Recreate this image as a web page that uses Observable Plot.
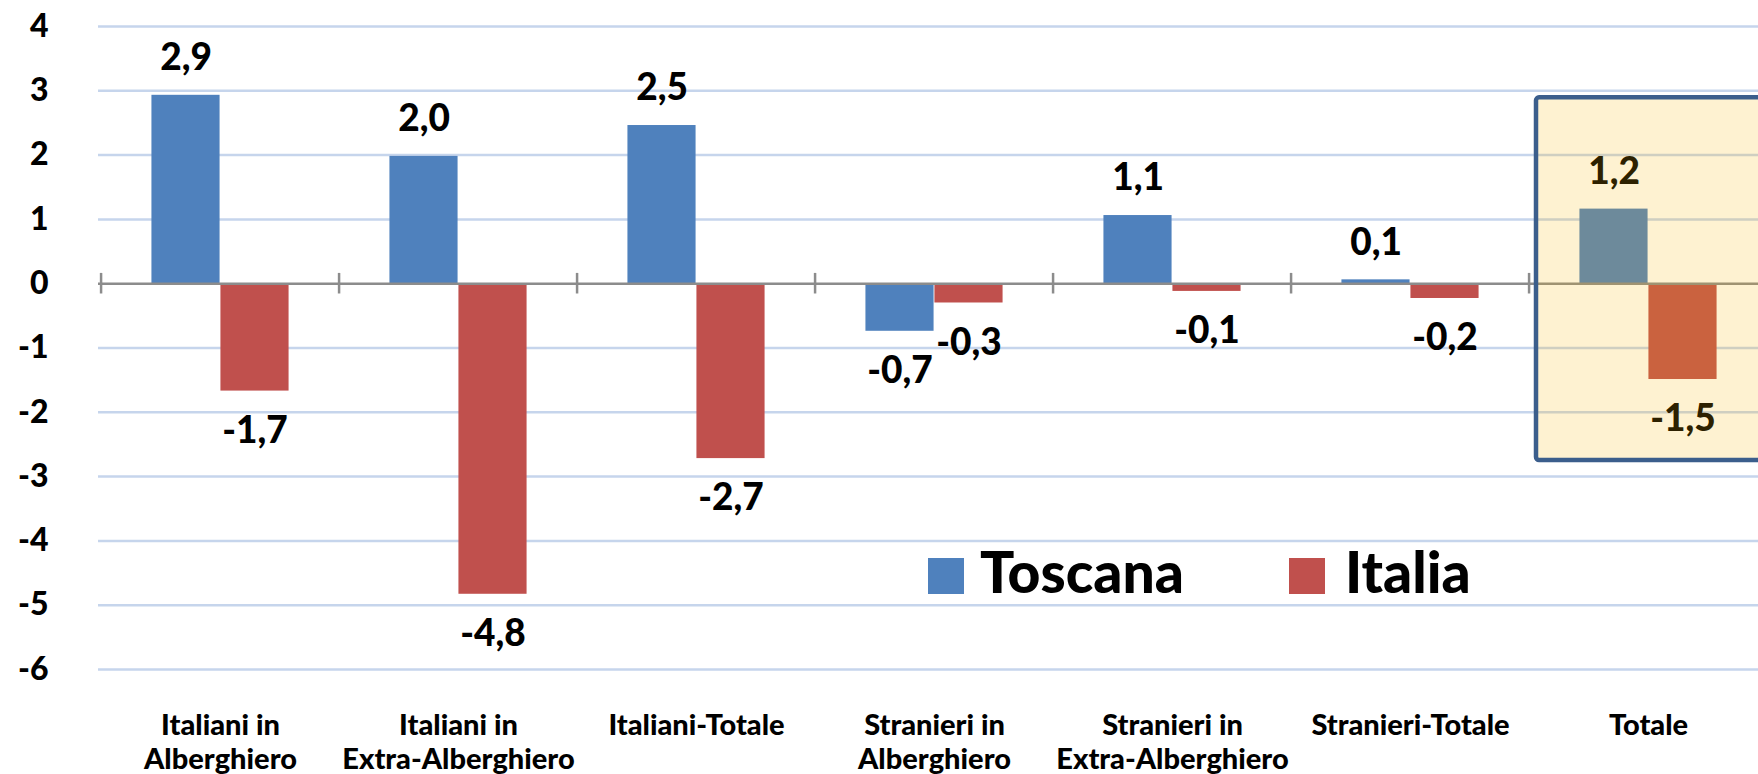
<!DOCTYPE html>
<html><head><meta charset="utf-8">
<script src="https://cdn.jsdelivr.net/npm/d3@7"></script>
<script src="https://cdn.jsdelivr.net/npm/@observablehq/plot@0.6"></script>
<style>
html,body{margin:0;padding:0;background:#fff;overflow:hidden;width:1758px;height:774px}
#wrap{position:relative;width:1758px;height:774px;overflow:hidden}
#wrap svg{position:absolute;left:0;top:0;max-width:none!important}
.lg-sw{position:absolute;width:36px;height:36px}
.lg-tx{position:absolute;font-family:Lato,sans-serif;font-weight:900;font-size:57px;line-height:57px;color:#000;white-space:nowrap}
</style></head><body><div id="wrap"></div>
<script>
const categories = ["Italiani in\nAlberghiero", "Italiani in\nExtra-Alberghiero", "Italiani-Totale", "Stranieri in\nAlberghiero", "Stranieri in\nExtra-Alberghiero", "Stranieri-Totale", "Totale"];
const series = ["Toscana", "Italia"];
const toscana = [2.93, 1.98, 2.46, -0.74, 1.06, 0.06, 1.16];
const italia = [-1.67, -4.83, -2.72, -0.30, -0.12, -0.23, -1.49];
const colors = ["#4F81BD", "#C0504D"];
const yTicks = [-6, -5, -4, -3, -2, -1, 0, 1, 2, 3, 4];
const highlightCategory = ["Totale"];
const highlightRange = [2.89, -2.75];

const W = 1770, H = 774, ML = 98, MR = 0, MT = 26, MB = 105;
const bw = (W - ML - MR) / categories.length;
const barW = 69;
const gap = bw / 2 - barW;

const rowsT = categories.map((c, i) => ({cat: c, value: toscana[i]}));
const rowsI = categories.map((c, i) => ({cat: c, value: italia[i]}));
const fmt = v => (Math.round(v * 10) / 10).toFixed(1).replace(".", ",");
const font = "Lato, sans-serif";
const LFS = 37;

const labelMarks = [];
[[rowsT, -barW / 2], [rowsI, barW / 2]].forEach(([rows, dx]) => {
  labelMarks.push(Plot.text(rows.filter(d => d.value >= 0), {x: "cat", y: "value", text: d => fmt(d.value), dx, dy: -37, fontSize: LFS, fill: "#000"}));
  labelMarks.push(Plot.text(rows.filter(d => d.value < 0), {x: "cat", y: "value", text: d => fmt(d.value), dx, dy: 40, fontSize: LFS, fill: "#000"}));
});

const chart = Plot.plot({
  width: W, height: H,
  marginLeft: ML, marginRight: MR, marginTop: MT, marginBottom: MB,
  style: {fontFamily: font, fontWeight: 900, color: "#000", background: "transparent", maxWidth: "none"},
  x: {type: "band", domain: categories, padding: 0, label: null},
  y: {domain: [-6, 4], label: null},
  marks: [
    Plot.ruleY(yTicks.filter(d => d !== 0), {stroke: "#C6D5EC", strokeWidth: 2.5}),
    Plot.barY(rowsT, {x: "cat", y: "value", fill: colors[0], insetLeft: gap, insetRight: bw / 2}),
    Plot.barY(rowsI, {x: "cat", y: "value", fill: colors[1], insetLeft: bw / 2, insetRight: gap}),
    Plot.ruleY([0], {stroke: "#8C8C8C", strokeWidth: 2.5}),
    Plot.ruleX(categories, {x: d => d, dx: -bw / 2, y1: -0.16, y2: 0.16, stroke: "#8C8C8C", strokeWidth: 2.5}),
    ...labelMarks,
    Plot.barY(highlightCategory, {x: d => d, y1: highlightRange[0], y2: highlightRange[1], fill: "#FBB900", fillOpacity: 0.18,
      stroke: "#3B5E8C", strokeWidth: 4.5, insetLeft: 7, insetRight: -20, rx: 3}),
    Plot.axisY({ticks: yTicks, tickSize: 0, tickPadding: 50, fontSize: 32, tickFormat: d => String(d), label: null}),
    Plot.axisX({tickSize: 0, tickPadding: 41, fontSize: 29, lineHeight: 1.18, tickFormat: d => d, label: null}),
  ]
});
const wrap = document.getElementById("wrap");
wrap.appendChild(chart);
// legend
const lgX = [928, 1289], lgTx = [980, 1345];
series.forEach((s, i) => {
  const sw = document.createElement("div");
  sw.className = "lg-sw"; sw.style.left = lgX[i] + "px"; sw.style.top = "558px"; sw.style.background = colors[i];
  wrap.appendChild(sw);
  const tx = document.createElement("div");
  tx.className = "lg-tx"; tx.style.left = lgTx[i] + "px"; tx.style.top = (594 - 51) + "px"; tx.textContent = s;
  wrap.appendChild(tx);
});
</script>
</body></html>
